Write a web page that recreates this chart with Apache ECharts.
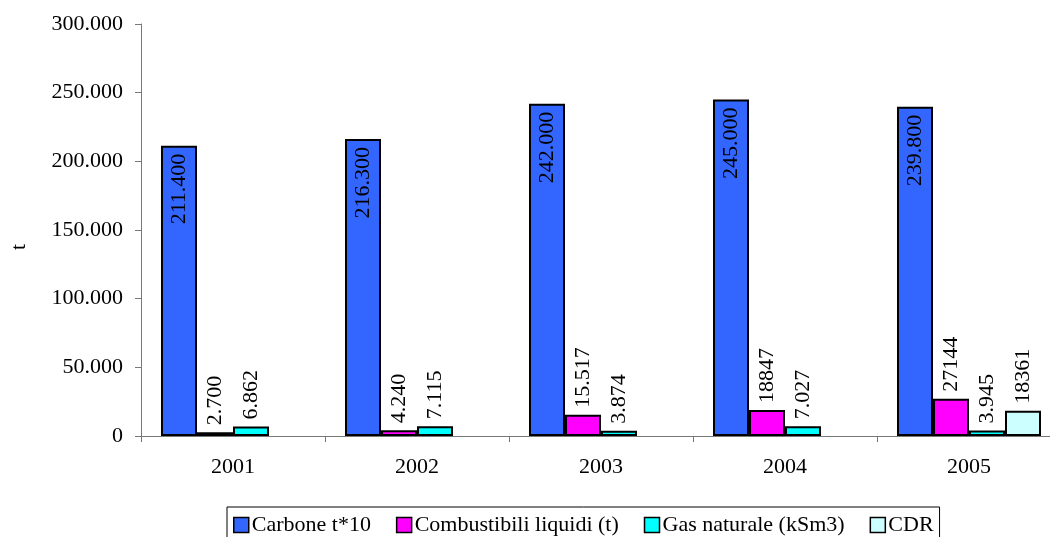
<!DOCTYPE html>
<html><head><meta charset="utf-8">
<script src="https://cdn.jsdelivr.net/npm/echarts@6/dist/echarts.min.js"></script>
<style>html,body{margin:0;padding:0;background:#fff}#c{width:1050px;height:537px}</style>
</head><body><div id="c"></div>
<script>
const categories = ['2001','2002','2003','2004','2005'];
const seriesNames = ['Carbone t*10','Combustibili liquidi (t)','Gas naturale (kSm3)','CDR'];
const carbone = [211400, 216300, 242000, 245000, 239800];
const combustibili = [2700, 4240, 15517, 18847, 27144];
const gas = [6862, 7115, 3874, 7027, 3945];
const cdr = [null, null, null, null, 18361];
const carboneLabels = ['211.400','216.300','242.000','245.000','239.800'];
const combustibiliLabels = ['2.700','4.240','15.517','18847','27144'];
const gasLabels = ['6.862','7.115','3.874','7.027','3.945'];
const cdrLabels = ['','','','','18361'];
const yTicks = {min: 0, max: 300000, interval: 50000};
const yAxisTitle = 't';

const colors = ['#3366FF','#FF00FF','#00FFFF','#CCFFFF'];
const FONT = 'Liberation Serif';
const FS = 22;
const fmt = v => v === 0 ? '0' : String(v).replace(/\B(?=(\d{3})+(?!\d))/g, '.');

function mk(name, data, labels, color, inside) {
  return {
    name, type: 'bar', data, barWidth: 36, barGap: '0%',
    itemStyle: {color, borderColor: '#000', borderWidth: 2},
    label: {
      show: true, rotate: 90,
      position: inside ? 'insideTop' : 'top',
      distance: inside ? 8 : 7,
      align: inside ? 'right' : 'left',
      verticalAlign: 'middle',
      fontFamily: FONT, fontSize: FS, color: '#000',
      formatter: p => labels[p.dataIndex]
    }
  };
}

const chart = echarts.init(document.getElementById('c'));
chart.setOption({
  animation: false,
  backgroundColor: '#fff',
  grid: {left: 141, width: 920, top: 24, height: 412, containLabel: false, outerBoundsMode: 'none'},
  graphic: [{
    type: 'text', left: 8, top: 244, rotation: Math.PI / 2,
    style: {text: yAxisTitle, font: FS + 'px "' + FONT + '"', fill: '#000'}
  }],
  legend: {
    left: 227, top: 507, orient: 'horizontal',
    data: seriesNames,
    icon: 'rect', itemWidth: 15, itemHeight: 15, itemGap: 25,
    padding: [7, 6, 8, 6],
    borderColor: '#000', borderWidth: 1,
    itemStyle: {borderColor: '#000', borderWidth: 1.5},
    textStyle: {fontFamily: FONT, fontSize: 22, color: '#000', padding: [0, 0, 0, -2]}
  },
  xAxis: {
    type: 'category', data: categories,
    axisLine: {lineStyle: {color: '#777', width: 1}},
    axisTick: {show: true, length: 6, alignWithLabel: false, lineStyle: {color: '#777'}},
    axisLabel: {fontFamily: FONT, fontSize: FS, color: '#000', margin: 20}
  },
  yAxis: {
    type: 'value', min: yTicks.min, max: yTicks.max, interval: yTicks.interval,
    axisLine: {show: true, lineStyle: {color: '#777', width: 1}},
    axisTick: {show: true, length: 6, lineStyle: {color: '#777'}},
    splitLine: {show: false},
    axisLabel: {fontFamily: FONT, fontSize: FS, color: '#000', margin: 18, formatter: fmt}
  },
  series: [
    mk(seriesNames[0], carbone, carboneLabels, colors[0], true),
    mk(seriesNames[1], combustibili, combustibiliLabels, colors[1], false),
    mk(seriesNames[2], gas, gasLabels, colors[2], false),
    mk(seriesNames[3], cdr, cdrLabels, colors[3], false)
  ]
});
</script></body></html>
